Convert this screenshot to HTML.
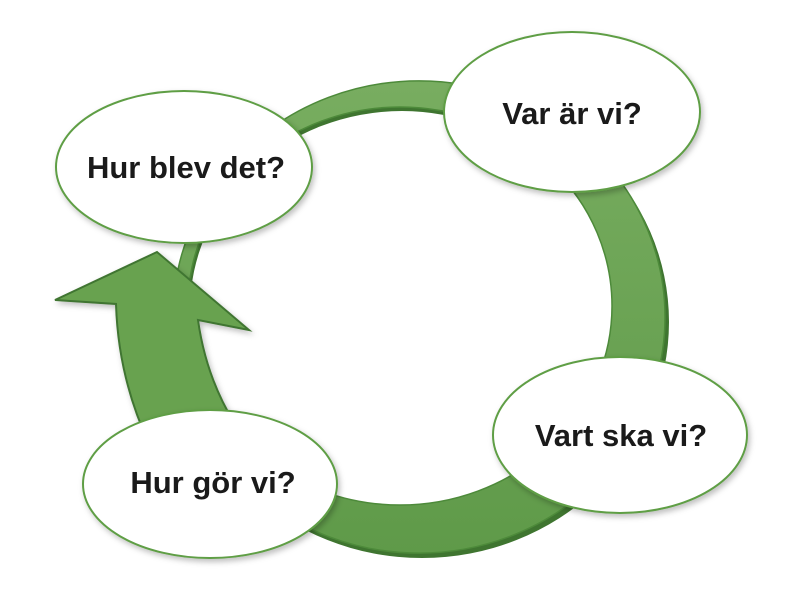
<!DOCTYPE html>
<html><head><meta charset="utf-8"><style>
html,body{margin:0;padding:0;background:#fff;width:807px;height:602px;overflow:hidden}
svg{display:block}
text{font-family:"Liberation Sans",sans-serif;font-weight:bold;font-size:31px;fill:#1a1a1a;text-anchor:middle}
</style></head><body>
<svg width="807" height="602" viewBox="0 0 807 602">
<defs>
<linearGradient id="g" x1="0" y1="0" x2="0" y2="1">
<stop offset="0" stop-color="#78ad60"/><stop offset="1" stop-color="#5f9a49"/>
</linearGradient>
<filter id="sh" x="-20%" y="-20%" width="140%" height="140%"><feDropShadow dx="2" dy="3" stdDeviation="3" flood-color="#000" flood-opacity="0.25"/></filter>
</defs>
<path fill-rule="evenodd" fill="#3f7530" d="M175,322 a247,236 0 1,0 494,0 a247,236 0 1,0 -494,0 Z M190,310 a212,199 0 1,0 424,0 a212,199 0 1,0 -424,0 Z"/>
<path fill-rule="evenodd" fill="url(#g)" stroke="#4d8a3a" stroke-width="1.5" d="M173,317 a246,236 0 1,0 492,0 a246,236 0 1,0 -492,0 Z M188,306 a212,199 0 1,0 424,0 a212,199 0 1,0 -424,0 Z"/>
<path fill="#68a250" stroke="#3f7530" stroke-width="2" filter="url(#sh)" d="M157,252 L55,300 L116,304 Q118,370 143,430 L228,412 Q205,370 198,320 L249,330 Z"/>
<g fill="#fff" stroke="#5e9e45" stroke-width="2" filter="url(#sh)">
<ellipse cx="184" cy="167" rx="128" ry="76"/>
<ellipse cx="572" cy="112" rx="128" ry="80"/>
<ellipse cx="620" cy="435" rx="127" ry="78"/>
<ellipse cx="210" cy="484" rx="127" ry="74"/>
</g>
<text x="186" y="178">Hur blev det?</text>
<text x="572" y="124">Var är vi?</text>
<text x="621" y="446">Vart ska vi?</text>
<text x="213" y="493">Hur gör vi?</text>
</svg>
</body></html>
